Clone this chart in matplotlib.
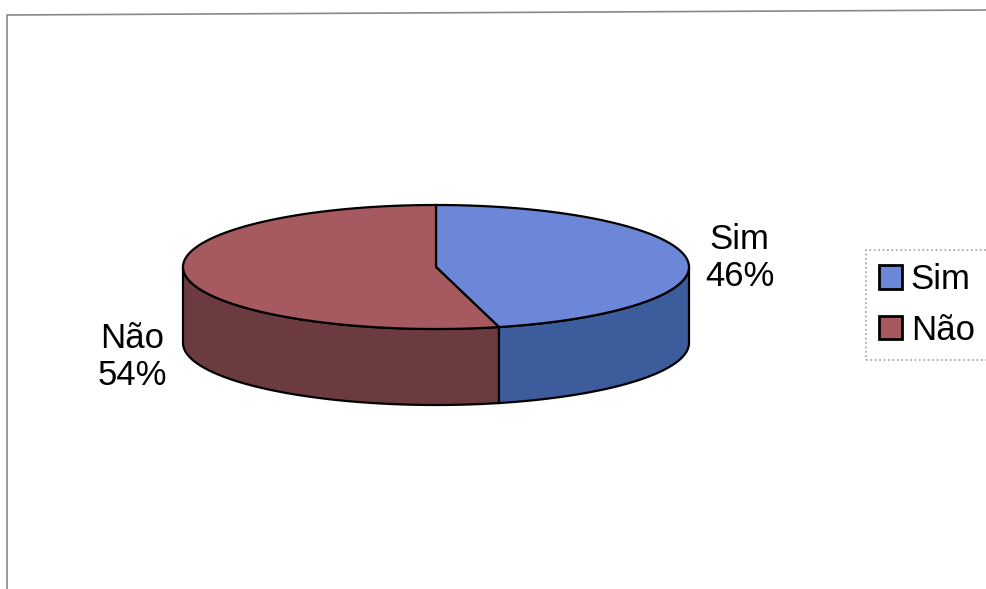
import matplotlib.pyplot as plt
import matplotlib.patches as mpatches
import numpy as np

plt.rcParams['font.family'] = ['Liberation Sans', 'DejaVu Sans']

# dados
categorias = ['Sim', 'Não']
valores = [46, 54]
cores_topo = ['#6c87d8', '#a65a60']
cores_lado = ['#3c5c9c', '#6c3b40']

# geometria da pizza 3D (em pixels)
cx, cy = 436, 267
rx, ry = 253, 62
prof = 76

fig = plt.figure(figsize=(9.86, 5.89), dpi=100)
ax = fig.add_axes([0, 0, 1, 1])
ax.set_xlim(0, 986)
ax.set_ylim(589, 0)
ax.axis('off')

# moldura do grafico
ax.plot([7, 7, 990], [600, 15, 10], color='#888888', lw=1.2)

fracs = np.array(valores) / sum(valores)
inicio = 90.0
angulos = []
for f in fracs:
    fim = inicio - f * 360
    angulos.append((fim, inicio))
    inicio = fim


def pt(t, dy=0):
    t = np.radians(t)
    return cx + rx * np.cos(t), cy - ry * np.sin(t) + dy


# laterais (so a metade da frente)
for (a, b), c in zip(angulos, cores_lado):
    for k in range(-1, 2):
        lo = max(a, -180 + 360 * k)
        hi = min(b, 0 + 360 * k)
        if hi <= lo:
            continue
        t = np.linspace(lo, hi, 100)
        x1, y1 = pt(t)
        x2, y2 = pt(t[::-1], prof)
        ax.fill(np.r_[x1, x2], np.r_[y1, y2], color=c, ec='black', lw=1.6, zorder=2)

# topo
for (a, b), c in zip(angulos, cores_topo):
    t = np.linspace(a, b, 200)
    x, y = pt(t)
    ax.fill(np.r_[cx, x, cx], np.r_[cy, y, cy], color=c, ec='black', lw=1.6, zorder=3)

# rotulos
for (a, b), nome, v in zip(angulos, categorias, valores):
    m = (a + b) / 2
    x = cx + 1.21 * rx * np.cos(np.radians(m))
    y = cy - 1.2 * ry * np.sin(np.radians(m))
    if np.sin(np.radians(m)) < 0:
        y += prof + 5
    ax.text(x, y, f'{nome}\n{v}%', ha='center', va='center', fontsize=25,
            linespacing=1.15, zorder=4)

# legenda
handles = [mpatches.Patch(fc=c, ec='black', lw=2) for c in cores_topo]
leg = ax.legend(handles, categorias, loc='upper left', bbox_to_anchor=(866 / 986, 1 - 250 / 589),
                fontsize=25, frameon=True, fancybox=False, handlelength=0.66, handleheight=0.66,
                handletextpad=0.25, labelspacing=0.5, borderpad=0.38, borderaxespad=0)
leg.get_frame().set_edgecolor('#888888')
leg.get_frame().set_linestyle(':')
leg.get_frame().set_linewidth(1.2)

fig.savefig('out.png', dpi=100)
